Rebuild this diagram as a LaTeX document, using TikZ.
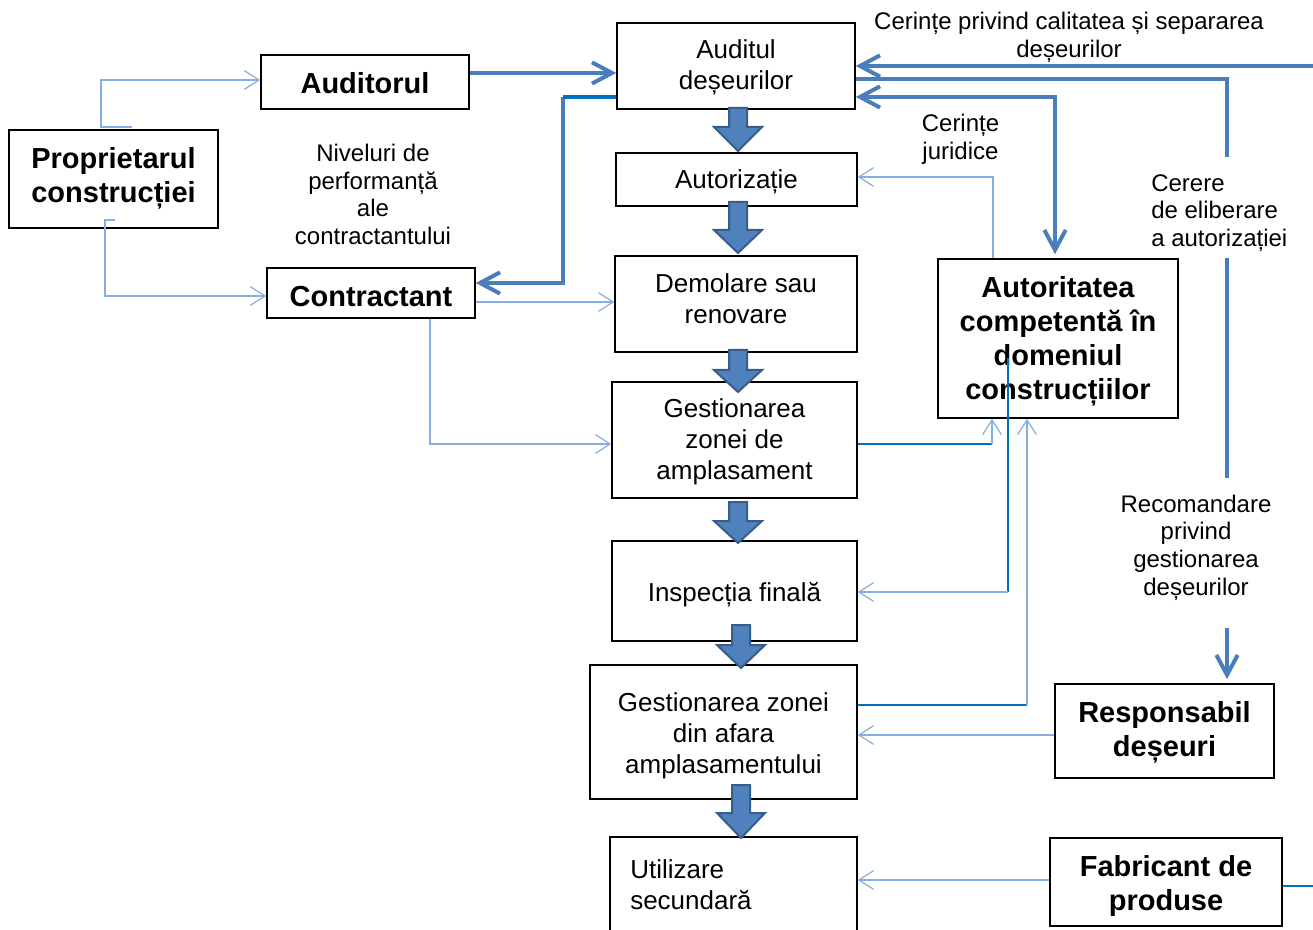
\documentclass[tikz,border=0pt]{standalone}
\usepackage{fontspec}
\setmainfont{Liberation Sans}
\usetikzlibrary{arrows.meta}
\definecolor{lb}{HTML}{86AEDF}
\definecolor{db}{HTML}{0070C0}
\definecolor{tb}{HTML}{4A7EBB}
\definecolor{bf}{HTML}{4F81BD}
\definecolor{bd}{HTML}{385D8A}
\newcommand\dnarrow[4]{%
  \draw[blk] (#1-9,#2) -- (#1+9,#2) -- (#1+9,#3) -- (#1+24,#3) -- (#1,#4) -- (#1-24,#3) -- (#1-9,#3) -- cycle;}
\tikzset{
  box/.style={draw=black, line width=1.2pt, inner sep=0pt},
  txt/.style={inner sep=0pt, align=center, font=\fontsize{19.5}{23.25}\selectfont},
  btxt/.style={inner sep=0pt, align=center, font=\fontsize{21.75}{25.5}\selectfont\bfseries},
  sz/.style 2 args={minimum width=#1*0.75pt, minimum height=#2*0.75pt},
  lbl/.style={inner sep=0pt, align=center, font=\fontsize{18}{20.75}\selectfont},
  thinc/.style={draw=lb, line width=0.9pt},
  darkc/.style={draw=db, line width=1.1pt},
  thickc/.style={draw=tb, line width=3pt},
  tarr/.style={-{Straight Barb[length=11pt,width=14pt]}},
  Tarr/.style={-{Straight Barb[length=15pt,width=16pt]}},
  blk/.style={fill=bf, draw=bd, line width=1.5pt, line join=miter},
}
\begin{document}
\begin{tikzpicture}[x=0.75pt,y=-0.75pt]
\useasboundingbox (0,0) rectangle (1313,930);
\fill[white] (0,0) rectangle (1313,930);
% boxes
\node[box, sz={208}{54}] (auditor) at (365,82) {};
\node[box, sz={209}{98}] (owner) at (113.5,179) {};
\node[box, sz={208}{50}] (contr) at (371,293) {};
\node[box, sz={238}{86}] (audit) at (736,66) {};
\node[box, sz={241}{53}] (autz) at (736.5,179.5) {};
\node[box, sz={242}{96}] (demol) at (736,304) {};
\node[box, sz={245}{116}] (gesta) at (734.5,440) {};
\node[box, sz={245}{100}] (insp) at (734.5,591) {};
\node[box, sz={267}{134}] (gestb) at (723.5,732) {};
\node[box, sz={247}{95}] (util) at (733.5,884.5) {};
\node[box, sz={240}{159}] (autor) at (1058,338.5) {};
\node[box, sz={219}{94}] (resp) at (1164.5,731) {};
\node[box, sz={232}{88}] (fabr) at (1166,882) {};
% box texts
\node[btxt] (auditorT) at (365,83) {Auditorul};
\node[btxt] (ownerT) at (113.5,178) {Proprietarul\\construcției};
\node[btxt] (contrT) at (371,297) {Contractant};
\node[txt] (auditT) at (736,67) {Auditul\\deșeurilor};
\node[txt] (autzT) at (736.5,181.5) {Autorizație};
\node[txt] (demolT) at (736,298.5) {Demolare sau\\renovare};
\node[txt] (gestaT) at (734.5,442) {Gestionarea\\zonei de\\amplasament};
\node[txt] (inspT) at (734.5,595) {Inspecția finală};
\node[txt] (gestbT) at (723.5,735.5) {Gestionarea zonei\\din afara\\amplasamentului};
\node[txt, anchor=west, align=left] (utilT) at (630,884.5) {Utilizare\\secundară};
\node[btxt] (autorT) at (1058,341.5) {Autoritatea\\competentă în\\domeniul\\construcțiilor};
\node[btxt] (respT) at (1164.5,732) {Responsabil\\deșeuri};
\node[btxt] (fabrT) at (1166,886) {Fabricant de\\produse};
% labels
\node[lbl] (l1) at (1069,37.5) {Cerințe privind calitatea și separarea\\deșeurilor};
\node[lbl] (l2) at (960.5,139) {Cerințe\\juridice};
\node[lbl] (l3) at (373,194.5) {Niveluri de\\performanță\\ale\\contractantului};
\node[lbl, anchor=west, align=left] (l4) at (1151,213) {Cerere\\de eliberare\\a autorizației};
\node[lbl] (l5) at (1196,547.5) {Recomandare\\privind\\gestionarea\\deșeurilor};
% free ends
\coordinate (p1) at (132,127);
\coordinate (p2) at (115,220);
\coordinate (q1) at (1008,358);
\coordinate (rA) at (1313,66);
\coordinate (rB) at (1313,886);
% thin connectors
\draw[thinc,tarr] (p1) -- (101,127) -- (101,80) -- (auditor.west |- 0,80);
\draw[thinc,tarr] (p2) -- (105,220) -- (105,296) -- (contr.west |- 0,296);
\draw[thinc,tarr] (contr.east |- 0,302) -- (demol.west |- 0,302);
\draw[thinc,tarr] (contr.south -| 430,0) |- (gesta.west |- 0,444);
\draw[thinc,tarr] (autor.north -| 993,0) |- (autz.east |- 0,177);
\draw[darkc] (gesta.east |- 0,444) -- (992,444);
\draw[thinc,tarr] (992,444) -- (autor.south -| 992,0);
\draw[darkc] (q1) -- (1008,592);
\draw[thinc,tarr] (1008,592) -- (insp.east |- 0,592);
\draw[darkc] (gestb.east |- 0,705) -- (1027,705);
\draw[thinc,tarr] (1027,705) -- (autor.south -| 1027,0);
\draw[thinc,tarr] (resp.west |- 0,735) -- (gestb.east |- 0,735);
\draw[thinc,tarr] (fabr.west |- 0,880) -- (util.east |- 0,880);
\draw[db, line width=2.2pt] (fabr.east |- 0,886) -- (rB);
% thick connectors
\draw[thickc,Tarr] (auditor.east |- 0,73) -- (audit.west |- 0,73);
\draw[thickc,Tarr] (563,97) -- (563,283) -- (contr.east |- 0,283);
\draw[db, line width=2.6pt] (audit.west |- 0,97) -- (563,97);
\draw[thickc,Tarr] (rA) -- (audit.east |- 0,66);
\draw[thickc] (audit.east |- 0,79) -- (1227,79) -- (1227,157);
\draw[thickc] (1227,258) -- (1227,478);
\draw[thickc,Tarr,shorten >=3pt] (1227,628) -- (resp.north -| 1227,0);
\draw[thickc,{Straight Barb[length=15pt,width=16pt]}-{Straight Barb[length=15pt,width=16pt]},shorten >=3pt] (audit.east |- 0,97) -| (autor.north -| 1055,0);
% block arrows
\dnarrow{738}{108}{127}{151}
\dnarrow{738}{202}{230}{253}
\dnarrow{738}{350}{370}{392}
\dnarrow{738}{502}{521}{543}
\dnarrow{741}{625}{645}{668}
\dnarrow{741}{785}{813}{838}
\end{tikzpicture}
\end{document}
